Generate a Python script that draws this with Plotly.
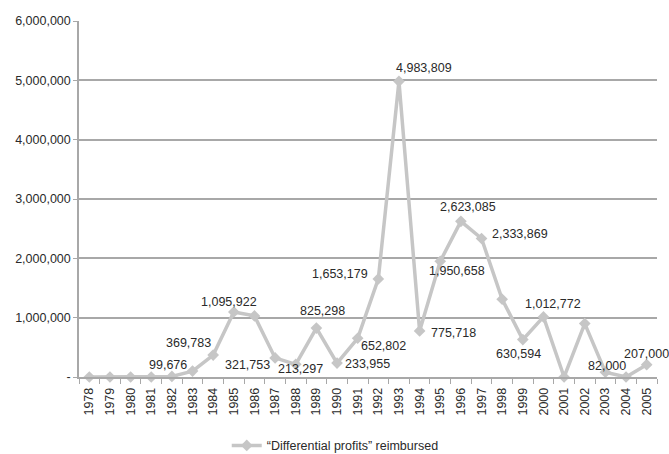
import plotly.graph_objects as go

years = [str(y) for y in range(1978, 2006)]
values = [0, 0, 0, 0, 10000, 99676, 369783, 1095922, 1030000, 321753, 213297,
          825298, 233955, 652802, 1653179, 4983809, 775718, 1950658, 2623085,
          2333869, 1310000, 630594, 1012772, 0, 900000, 82000, 0, 207000]
labelled_years = ["1983", "1984", "1985", "1987", "1988", "1989", "1990", "1991",
                  "1992", "1993", "1994", "1995", "1996", "1997", "1999", "2000",
                  "2003", "2005"]
# label offsets from the point, in pixels (dx right, dy up)
label_offsets = {
    "1983": (-25, 6), "1984": (-25, 12), "1985": (-5, 10), "1987": (-28, -7),
    "1988": (5, -5), "1989": (6, 17), "1990": (30, -1), "1991": (26, -8),
    "1992": (-38, 5), "1993": (25, 13), "1994": (34, -2), "1995": (17, -10),
    "1996": (7, 14), "1997": (38, 5), "1999": (-4, -14), "2000": (10, 13),
    "2003": (2, 6), "2005": (0, 11),
}
series_name = "\u201cDifferential profits\u201d reimbursed"
y_ticks = [0, 1000000, 2000000, 3000000, 4000000, 5000000, 6000000]
y_ticktext = ["-", "1,000,000", "2,000,000", "3,000,000", "4,000,000", "5,000,000", "6,000,000"]

FONT = "Liberation Sans, Arial, Helvetica, sans-serif"
LINE = "#c6c6c6"
GRID = "#a8a8a8"
TXT = "#2a2a2a"

fig = go.Figure()
fig.add_trace(go.Scatter(
    x=years, y=values, mode="lines+markers", name=series_name,
    line=dict(color=LINE, width=3.5),
    marker=dict(symbol="diamond", size=9, color=LINE),
    cliponaxis=False,
))

for yr in labelled_years:
    i = years.index(yr)
    dx, dy = label_offsets[yr]
    fig.add_annotation(x=i, y=values[i], text=f"{values[i]:,}",
                       showarrow=False, xshift=dx, yshift=dy,
                       xanchor="center", yanchor="middle",
                       font=dict(family=FONT, size=12.5, color=TXT))

fig.update_layout(
    width=669, height=454,
    margin=dict(l=79, r=12, t=21, b=77),
    paper_bgcolor="white", plot_bgcolor="white",
    font=dict(family=FONT, size=12.5, color=TXT),
    showlegend=True,
    legend=dict(orientation="h", x=0.2556, xanchor="left",
                yref="container", y=0.018, yanchor="middle",
                font=dict(family=FONT, size=12.5, color=TXT)),
    xaxis=dict(type="category", range=[-0.5, 27.5], tickangle=-90,
               tickson="boundaries", ticks="outside", ticklen=5, tickcolor=GRID,
               ticklabelstandoff=4,
               showgrid=False, showline=True, linecolor=GRID, linewidth=1.5,
               zeroline=False, tickfont=dict(size=12.5)),
    yaxis=dict(range=[0, 6000000], tickvals=y_ticks, ticktext=y_ticktext,
               ticks="outside", ticklen=4, tickcolor=GRID,
               showgrid=True, gridcolor=GRID, gridwidth=1.5,
               showline=True, linecolor=GRID, linewidth=1.5, zeroline=False,
               tickfont=dict(size=12.5)),
)

fig.write_html("out.html")
